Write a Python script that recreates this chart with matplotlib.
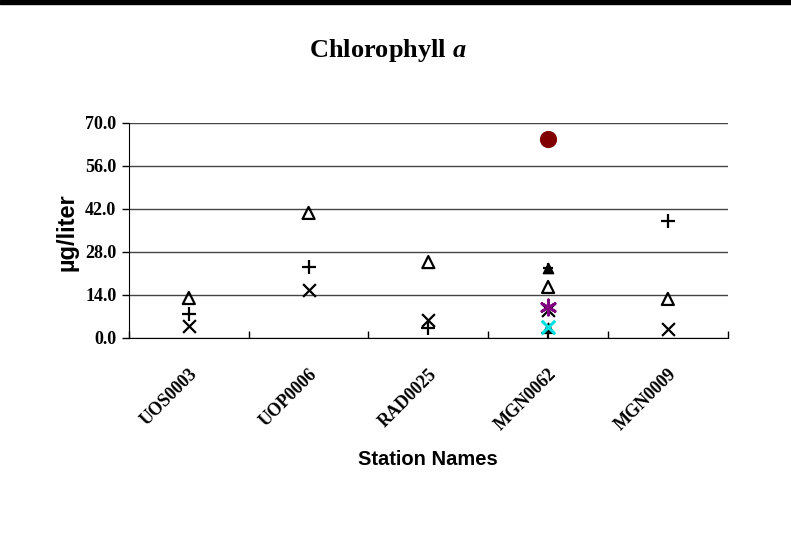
import numpy as np
import matplotlib
matplotlib.use('Agg')
import matplotlib.pyplot as plt
from matplotlib.patches import Rectangle

plt.rcParams['mathtext.fontset'] = 'custom'
plt.rcParams['mathtext.rm'] = 'Liberation Serif:bold'
plt.rcParams['mathtext.it'] = 'Liberation Serif:italic:bold'

# Station data (ug/liter)
stations = ['UOS0003', 'UOP0006', 'RAD0025', 'MGN0062', 'MGN0009']
cross_vals = [3.9, 15.6, 5.9, 9.1, 2.9]
plus_vals = [7.8, 23.1, 3.3, 1.6, 38.1]
tri_vals = [13.0, 40.7, 24.7, 16.6, 12.7]

# extra samples at MGN0062 only
extra_station = 'MGN0062'
red_val = 64.8
filled_tri_val = 22.8
star_val = 10.0
cyan_val = 3.6
small_tri_val = 3.6

yticks = [0.0, 14.0, 28.0, 42.0, 56.0, 70.0]

fig = plt.figure(figsize=(7.91, 5.39), dpi=100)
fig.add_artist(Rectangle((0, 1 - 4 / 539), 1, 4 / 539, transform=fig.transFigure,
                         color='black', zorder=10))
ax = fig.add_axes([0.163, 0.373, 0.757, 0.399])

x = np.arange(len(stations))
xe = stations.index(extra_station)

ax.scatter(x, tri_vals, marker='^', s=75, facecolors='none', edgecolors='black', linewidths=1.6, zorder=3)
ax.scatter(x, plus_vals, marker='+', s=100, color='black', linewidths=1.6, zorder=3)
ax.scatter(x, cross_vals, marker='x', s=85, color='black', linewidths=1.6, zorder=3)
ax.scatter([xe], [red_val], marker='o', s=130, color='#800000', zorder=3)
ax.scatter([xe], [filled_tri_val], marker='^', s=55, color='black', zorder=3)
ax.scatter([xe], [filled_tri_val], marker='+', s=55, color='black', linewidths=1.6, zorder=3)
ax.scatter([xe], [star_val], marker=(6, 2, 0), s=120, color='#800080', linewidths=2, zorder=3)
ax.scatter([xe], [small_tri_val], marker='^', s=40, color='black', zorder=3)
ax.scatter([xe], [cyan_val], marker='x', s=95, color='#00e0e0', linewidths=2.2, zorder=4)

ax.set_xlim(-0.5, len(stations) - 0.5)
ax.set_ylim(0, 70)
ax.set_yticks(yticks)
ax.set_yticklabels([f'{v:.1f}' for v in yticks], fontfamily='Liberation Serif',
                   fontweight='bold', fontsize=13)
ax.set_xticks(np.arange(-0.5, len(stations) + 0.5, 1.0))
ax.set_xticklabels([])
ax.set_xticks(x, minor=True)
ax.set_xticklabels(stations, minor=True, rotation=45, ha='right', va='top',
                   rotation_mode='anchor', fontfamily='Liberation Serif',
                   fontweight='bold', fontsize=13)
ax.tick_params(axis='x', which='minor', length=0, pad=20)
ax.tick_params(axis='x', which='major', direction='in', length=5, width=1)
ax.tick_params(axis='y', direction='out', length=5, width=1, pad=4)
ax.grid(axis='y', color='#444444', linewidth=1)
ax.set_axisbelow(True)
for side in ['top', 'right']:
    ax.spines[side].set_visible(False)

ax.set_ylabel('\u00b5g/liter', fontfamily='Liberation Sans', fontweight='bold', fontsize=17, va='center')
ax.yaxis.set_label_coords(-0.103, 0.49)
ax.set_xlabel('Station Names', fontfamily='Liberation Sans', fontweight='bold', fontsize=14.5, va='center')
ax.xaxis.set_label_coords(0.5, -0.567)
fig.text(0.49, 1 - 50 / 539, r'$\mathrm{Chlorophyll}\ a$', ha='center', va='center', fontsize=19)

fig.savefig('out.png', dpi=100)
